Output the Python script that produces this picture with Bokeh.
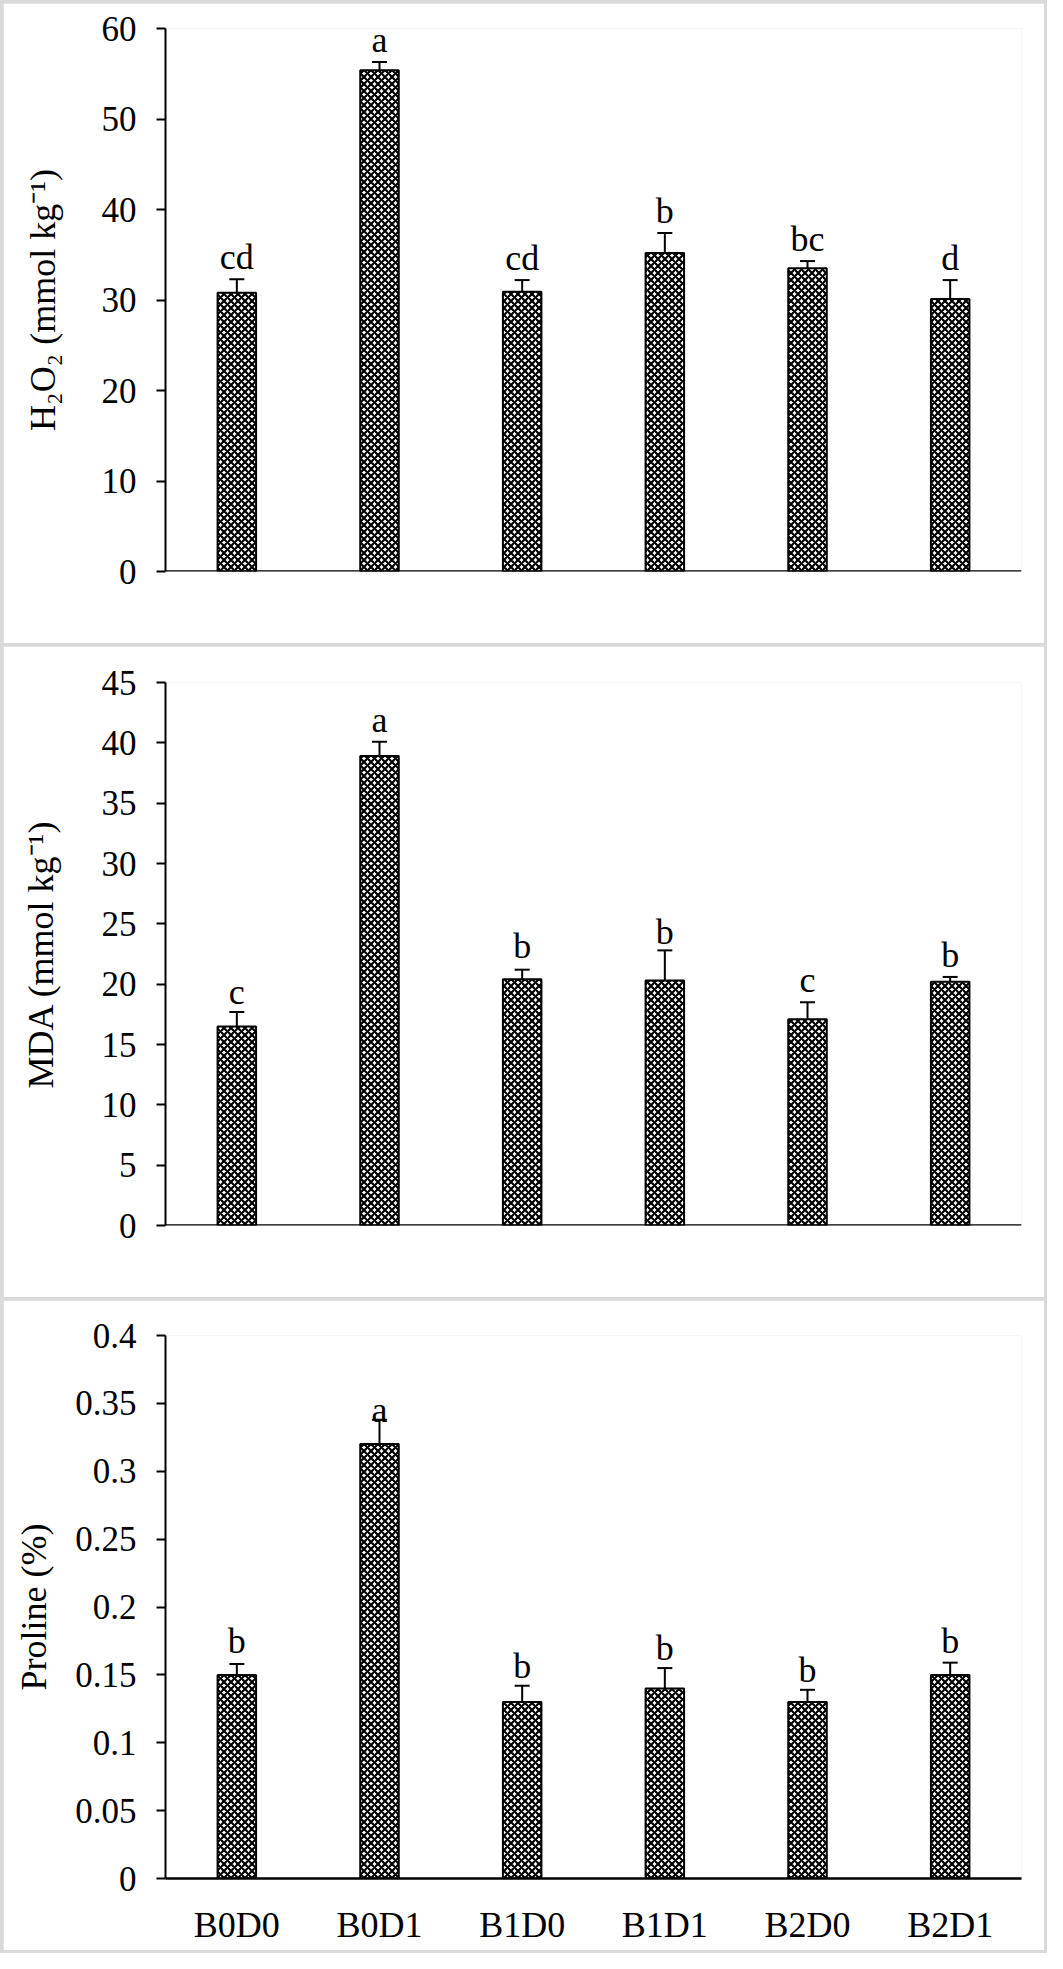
from bokeh.plotting import figure
from bokeh.models import (ColumnDataSource, Whisker, TeeHead, LabelSet, FixedTicker,
                          Range1d, CustomJSTickFormatter, Span)
from bokeh.layouts import column
from bokeh.embed import file_html
from bokeh.resources import INLINE

# ---------------- data ----------------
categories = ["B0D0", "B0D1", "B1D0", "B1D1", "B2D0", "B2D1"]

h2o2 = [30.8, 55.4, 30.9, 35.2, 33.5, 30.1]
h2o2_err = [1.5, 0.9, 1.3, 2.2, 0.8, 2.1]
h2o2_letters = ["cd", "a", "cd", "b", "bc", "d"]
h2o2_ticks = [0, 10, 20, 30, 40, 50, 60]

mda = [16.5, 38.9, 20.4, 20.3, 17.1, 20.2]
mda_err = [1.2, 1.2, 0.8, 2.5, 1.4, 0.4]
mda_letters = ["c", "a", "b", "b", "c", "b"]
mda_ticks = [0, 5, 10, 15, 20, 25, 30, 35, 40, 45]

proline = [0.15, 0.32, 0.13, 0.14, 0.13, 0.15]
proline_err = [0.008, 0.018, 0.012, 0.015, 0.009, 0.009]
proline_letters = ["b", "a", "b", "b", "b", "b"]
proline_ticks = [0, 0.05, 0.1, 0.15, 0.2, 0.25, 0.3, 0.35, 0.4]

FONT = "Liberation Serif"
W = 1041


def make_panel(values, errs, letters, ticks, ylabel, height, top, show_x,
               label_standoff, lifts):
    src = ColumnDataSource(dict(
        x=categories,
        v=values,
        lower=[v - e for v, e in zip(values, errs)],
        upper=[v + e for v, e in zip(values, errs)],
        letter=letters,
        lift=lifts,
    ))
    p = figure(x_range=categories, y_range=Range1d(0, ticks[-1]),
               width=W, height=height, output_backend="svg",
               toolbar_location=None, min_border_left=162, min_border_right=23,
               min_border_top=top, min_border_bottom=72)
    p.outline_line_color = None
    p.grid.visible = False
    p.background_fill_color = "white"
    p.border_fill_color = "white"

    p.vbar(x="x", top="v", bottom=0, width=0.27, source=src,
           fill_color="white", line_color="black", line_width=2,
           hatch_pattern="diagonal_cross", hatch_color="black",
           hatch_scale=7, hatch_weight=2.2)

    whisk = Whisker(source=src, base="x", lower="lower", upper="upper",
                    line_color="black", line_width=2,
                    upper_head=TeeHead(size=15, line_width=2, line_color="black"),
                    lower_head=TeeHead(size=15, line_width=2, line_color="black"))
    p.add_layout(whisk)

    labels = LabelSet(x="x", y="upper", text="letter", source=src,
                      y_offset="lift", text_align="center",
                      text_baseline="alphabetic", text_font=FONT,
                      text_font_size="36px", text_color="black")
    p.add_layout(labels)

    # y axis
    ya = p.yaxis[0]
    ya.ticker = FixedTicker(ticks=ticks)
    ya.formatter = CustomJSTickFormatter(
        code="return parseFloat(tick.toFixed(4)).toString();")
    ya.axis_line_color = "black"
    ya.axis_line_width = 2
    ya.major_tick_line_color = "black"
    ya.major_tick_line_width = 2
    ya.major_tick_out = 9
    ya.major_tick_in = 0
    ya.minor_tick_line_color = None
    ya.major_label_standoff = 20
    ya.major_label_text_font = FONT
    ya.major_label_text_font_size = "35px"
    ya.major_label_text_color = "black"
    ya.axis_label = ylabel
    ya.axis_label_text_font = FONT
    ya.axis_label_text_font_size = "36px"
    ya.axis_label_text_font_style = "normal"
    ya.axis_label_text_color = "black"
    ya.axis_label_standoff = label_standoff

    # x axis
    xa = p.xaxis[0]
    if show_x:
        xa.axis_line_color = "black"
        xa.axis_line_width = 2.5
        xa.major_tick_line_color = None
        xa.minor_tick_line_color = None
        xa.major_tick_out = 0
        xa.major_tick_in = 0
        xa.major_label_standoff = 26
        xa.major_label_text_font = FONT
        xa.major_label_text_font_size = "36px"
        xa.major_label_text_color = "black"
    else:
        xa.visible = False
        p.add_layout(Span(location=0, dimension="width", line_color="black",
                          line_width=2.5))
    return p


p1 = make_panel(h2o2, h2o2_err, h2o2_letters, h2o2_ticks,
                "H\u2082O\u2082 (mmol kg\u207b\u00b9)", 640, 25, False, 36,
                [10, 10, 10, 10, 10, 10])
p2 = make_panel(mda, mda_err, mda_letters, mda_ticks,
                "MDA (mmol kg\u207b\u00b9)", 651, 36, False, 38,
                [8, 10, 12, 6, 10, 10])
p3 = make_panel(proline, proline_err, proline_letters, proline_ticks,
                "Proline (%)", 650, 35, True, 18,
                [11, -2, 8, 8, 8, 10])

layout = column(p1, p2, p3, spacing=3,
                styles={"background-color": "#d9d9d9", "padding": "3px"})

open("out.html", "w").write(file_html(layout, INLINE))
